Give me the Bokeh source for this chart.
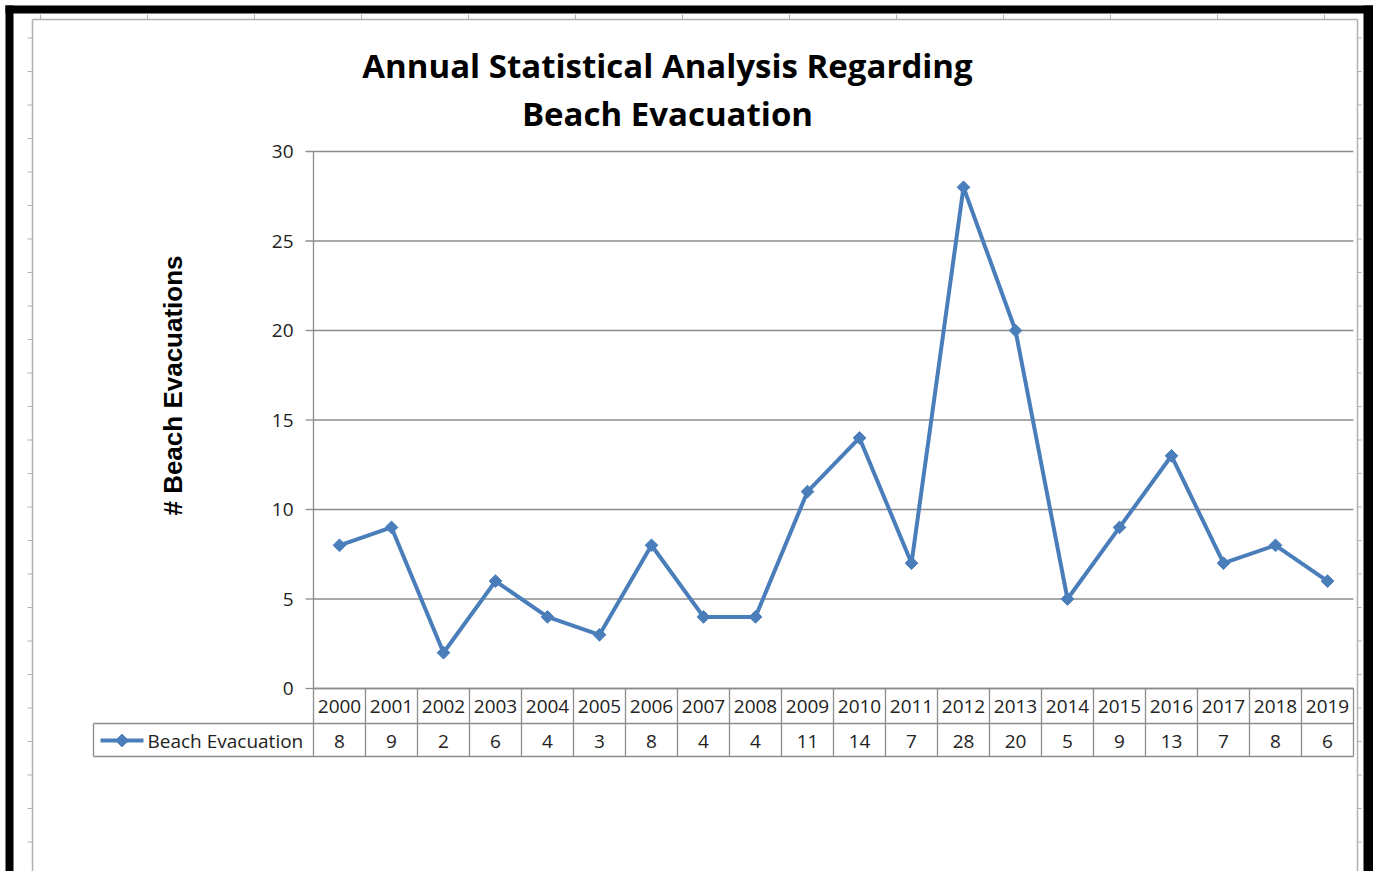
import numpy as np
from bokeh.plotting import figure
from bokeh.models import Range1d
from bokeh.core.properties import value
from bokeh.embed import file_html
from bokeh.resources import INLINE

# ---- data ----
years = ["2000", "2001", "2002", "2003", "2004", "2005", "2006", "2007", "2008", "2009",
         "2010", "2011", "2012", "2013", "2014", "2015", "2016", "2017", "2018", "2019"]
evacuations = [8, 9, 2, 6, 4, 3, 8, 4, 4, 11, 14, 7, 28, 20, 5, 9, 13, 7, 8, 6]
y_ticks = [0, 5, 10, 15, 20, 25, 30]
series_name = "Beach Evacuation"
title_lines = ["Annual Statistical Analysis Regarding", "Beach Evacuation"]
y_title = "# Beach Evacuations"

# ---- layout helpers (page pixel -> data space) ----
W, H = 1373, 871
OX, OY = 0, 0
PLOT_L, COL_W, ZERO_Y, UNIT = 313.0, 52.0, 688.0, 17.9


def X(px):
    return (px - PLOT_L) / COL_W - 0.5


def Y(py):
    return (ZERO_Y - py) / UNIT


p = figure(width=W, height=H, x_range=Range1d(X(OX), X(OX + W)), y_range=Range1d(Y(OY + H), Y(OY)),
           min_border=0, toolbar_location=None, output_backend="svg",
           x_axis_location=None, y_axis_location=None)
p.grid.visible = False
p.outline_line_color = None
p.background_fill_color = "white"
p.border_fill_color = "white"

FONT = value("Open Sans")
BLUE = "#4A7EBB"
GRID = "#8C8C8C"
SHEET = "#B0B0B0"
TXT = "#222222"
FS = "19px"

n = len(years)
idx = list(range(n))
x_lo, x_hi = -0.5, n - 0.5

# ---- worksheet remnants ----
p.segment(x0=[X(32), X(32), X(1357)], y0=[Y(19), Y(19), Y(19)],
          x1=[X(32), X(1357), X(1357)], y1=[Y(871), Y(19), Y(871)],
          line_color=SHEET, line_width=1.5)
row_ticks = np.arange(37.5, 871, 33.5)
p.segment(x0=[X(27)] * len(row_ticks), x1=[X(32)] * len(row_ticks),
          y0=[Y(v) for v in row_ticks], y1=[Y(v) for v in row_ticks], line_color=SHEET, line_width=1)
p.segment(x0=[X(1357)] * len(row_ticks), x1=[X(1361)] * len(row_ticks),
          y0=[Y(v) for v in row_ticks], y1=[Y(v) for v in row_ticks], line_color=SHEET, line_width=1)
col_ticks = np.arange(40, 1357, 107)
p.segment(x0=[X(v) for v in col_ticks], x1=[X(v) for v in col_ticks],
          y0=[Y(14)] * len(col_ticks), y1=[Y(19)] * len(col_ticks), line_color=SHEET, line_width=1)

# ---- black frame ----
p.quad(left=[X(5), X(5), X(1363)], right=[X(13), X(1373), X(1373)],
       top=[Y(5), Y(5), Y(5)], bottom=[Y(871), Y(13), Y(871)],
       fill_color="black", line_color=None)

# ---- gridlines ----
p.segment(x0=[x_lo] * len(y_ticks), x1=[x_hi] * len(y_ticks), y0=y_ticks, y1=y_ticks,
          line_color=GRID, line_width=1.3)
# y axis line + ticks
p.segment(x0=[x_lo], x1=[x_lo], y0=[y_ticks[0]], y1=[y_ticks[-1]], line_color=GRID, line_width=1.3)
p.segment(x0=[X(305)] * len(y_ticks), x1=[x_lo] * len(y_ticks), y0=y_ticks, y1=y_ticks,
          line_color=GRID, line_width=1.3)
p.text(x=[X(293)] * len(y_ticks), y=y_ticks, text=[str(t) for t in y_ticks],
       text_align="right", text_baseline="middle", text_font=FONT, text_font_size=FS,
       text_color=TXT)

# ---- data table ----
row1_top, row_mid, row_bot = Y(688), Y(723), Y(756)
p.segment(x0=[x_lo, X(93), X(93)], x1=[x_hi, x_hi, x_hi], y0=[row1_top, row_mid, row_bot],
          y1=[row1_top, row_mid, row_bot], line_color=GRID, line_width=1.3)
bounds = [i - 0.5 for i in range(n + 1)]
p.segment(x0=bounds, x1=bounds, y0=[row1_top] * len(bounds), y1=[row_bot] * len(bounds),
          line_color=GRID, line_width=1.3)
p.segment(x0=[X(93)], x1=[X(93)], y0=[row_mid], y1=[row_bot], line_color=GRID, line_width=1.3)
p.text(x=idx, y=[Y(706)] * n, text=years, text_align="center", text_baseline="middle",
       text_font=FONT, text_font_size=FS, text_color=TXT)
p.text(x=idx, y=[Y(740.5)] * n, text=[str(v) for v in evacuations], text_align="center",
       text_baseline="middle", text_font=FONT, text_font_size=FS, text_color=TXT)
# legend key in table
p.segment(x0=[X(100)], x1=[X(143)], y0=[Y(740)], y1=[Y(740)], line_color=BLUE, line_width=4)
p.scatter(x=[X(121.5)], y=[Y(740)], marker="square", angle=np.pi / 4, size=9,
          fill_color=BLUE, line_color=BLUE)
p.text(x=[X(147)], y=[Y(740)], text=[series_name], text_align="left", text_baseline="middle",
       text_font=FONT, text_font_size=FS, text_color=TXT)

# ---- series ----
p.line(x=idx, y=evacuations, line_color=BLUE, line_width=4, line_join="round")
p.scatter(x=idx, y=evacuations, marker="square", angle=np.pi / 4, size=9,
          fill_color=BLUE, line_color=BLUE)

# ---- titles ----
p.text(x=[X(667)] * 2, y=[Y(65), Y(113)], text=title_lines, text_align="center",
       text_baseline="middle", text_font=FONT, text_font_style="bold", text_font_size="33px",
       text_color="black")
p.text(x=[X(172)], y=[Y(385)], text=[y_title], angle=np.pi / 2, text_align="center",
       text_baseline="middle", text_font=value("Liberation Sans"), text_font_style="bold",
       text_font_size="26px", text_color="black")

open("out.html", "w").write(file_html(p, INLINE))
